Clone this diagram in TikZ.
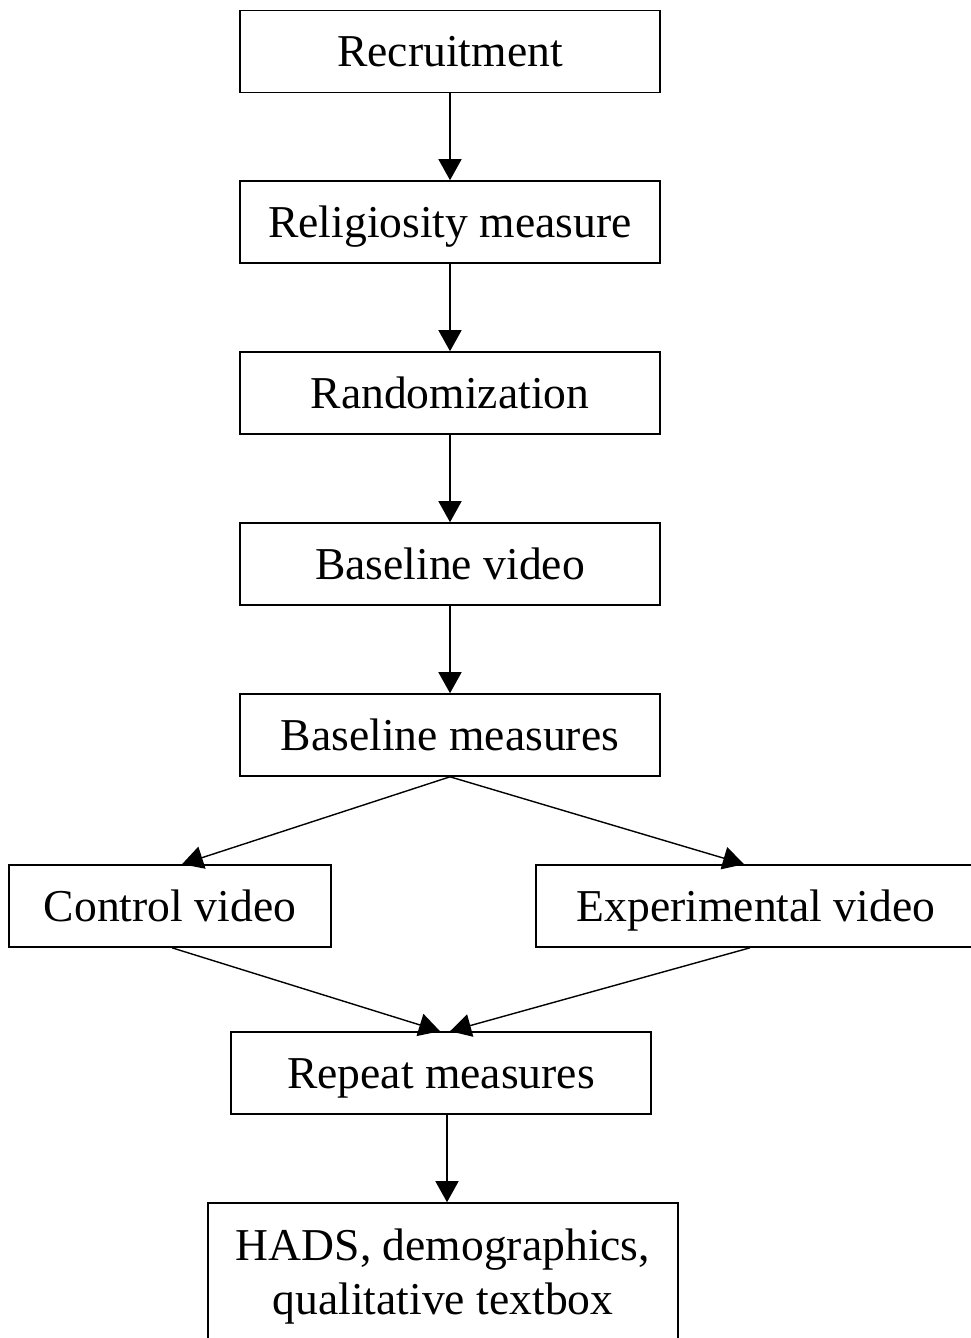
\documentclass[tikz,border=0pt]{standalone}
\usepackage{fontspec}
\setmainfont{Liberation Serif}
\usetikzlibrary{arrows.meta,calc}
\begin{document}
\begin{tikzpicture}[x=1pt,y=-1pt,
  box/.style={draw,line width=1.6pt,rectangle,inner sep=0pt,minimum height=82pt,text height=40pt,text depth=10pt,align=center,font=\fontsize{45.6}{52}\selectfont},
  conn/.style={line width=1.4pt,-{Triangle[length=21pt,width=23pt]}}]
\useasboundingbox (0,0) rectangle (971,1338);
\clip (0,0) rectangle (971,1338);
\node[box,minimum width=420pt] (rec) at (450,51.5) {Recruitment};
\node[box,minimum width=420pt] (rel) at (450,222) {Religiosity measure};
\node[box,minimum width=420pt] (ran) at (450,393) {Randomization};
\node[box,minimum width=420pt] (bv) at (450,564) {Baseline video};
\node[box,minimum width=420pt] (bm) at (450,735) {Baseline measures};
\node[box,minimum width=322pt] (cv) at (170,906) {Control video};
\node[box,minimum width=440pt] (ev) at (756,906) {Experimental video};
\node[box,minimum width=420pt] (rm) at (441,1073) {Repeat measures};
\node[draw,line width=1.6pt,rectangle,minimum width=470pt,minimum height=150pt] (hd) at (443,1278) {};
\node[font=\fontsize{45.6}{54}\selectfont,align=center] (hdt) at (443,1277) {HADS, demographics,\\qualitative textbox};
\draw[conn] (rec.south) -- (rel.north);
\draw[conn] (rel.south) -- (ran.north);
\draw[conn] (ran.south) -- (bv.north);
\draw[conn] (bv.south) -- (bm.north);
\draw[conn] (bm.south) -- ($(cv.north)+(12,0)$);
\draw[conn] (bm.south) -- ($(ev.north)+(-12,0)$);
\draw[conn] ($(cv.south)+(2,0)$) -- ($(rm.north)+(-1,0)$);
\draw[conn] ($(ev.south)+(-6,0)$) -- ($(rm.north)+(9,0)$);
\draw[conn] ($(rm.south)+(6,0)$) -- ($(hd.north)+(4,0)$);
\end{tikzpicture}
\end{document}
